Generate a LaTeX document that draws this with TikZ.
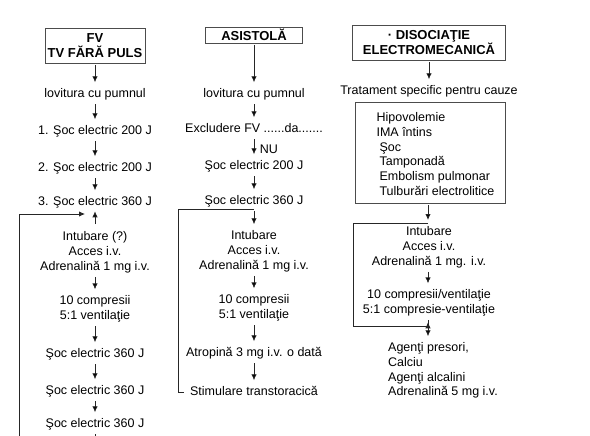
\documentclass[tikz,border=0pt]{standalone}
\usepackage{fontspec}
\setmainfont{Liberation Sans}
\usetikzlibrary{positioning,calc,arrows.meta}
\newcommand{\tf}{\fontsize{12.5}{14.8}\selectfont}
\newcommand{\hf}{\fontsize{13}{14.5}\selectfont\bfseries}

\begin{document}
\begin{tikzpicture}[x=1pt,y=1pt,
  >={Latex[length=6pt,width=5.5pt]},
  every node/.style={inner sep=2pt,font=\tf},
  stage/.style={text height=9pt,text depth=2.6pt},
  block/.style={align=center},
  head/.style={draw=black!70,line width=0.6pt,align=center,font=\hf,inner sep=0pt},
  line/.style={draw=black!85,line width=0.85pt}]
\useasboundingbox (0,0) rectangle (590,-436);
%
% FV / TV
\node[head,minimum width=100pt,minimum height=35pt] (fv) at (95,-45.5) {FV\\TV FĂRĂ PULS};
\node[stage] (f1) at (95,-94.3)  {lovitura cu pumnul};
\node[stage] (f2) at (95,-131.3) {1. Şoc electric 200 J};
\node[stage] (f3) at (95,-168.3) {2. Şoc electric 200 J};
\node[stage] (f4) at (95,-202.3) {3. Şoc electric 360 J};
\node[block] (f5) at (95,-252)   {Intubare (?)\\Acces i.v.\\Adrenalină 1 mg i.v.};
\node[block] (f6) at (95,-308.8) {10 compresii\\5:1 ventilaţie};
\node[stage] (f7) at (95,-354.3) {Şoc electric 360 J};
\node[stage] (f8) at (95,-391.3) {Şoc electric 360 J};
\node[stage] (f9) at (95,-424.3) {Şoc electric 360 J};
\coordinate (f0) at (19,-436);
\coordinate (fr) at (85,-214);
\coordinate (fe) at (95,-436);
%
% asistola
\node[head,minimum width=97pt,minimum height=16pt] (as) at (254,-35) {ASISTOLĂ};
\node[stage] (a1) at (254,-94.3)  {lovitura cu pumnul};
\node[stage] (a2) at (254,-129.3) {Excludere FV ......da.......};
\node[stage] (a3) at (254,-166.3) {Şoc electric 200 J};
\node[stage] (a4) at (254,-201.3) {Şoc electric 360 J};
\node[block] (a5) at (254,-251.1) {Intubare\\Acces i.v.\\Adrenalină 1 mg i.v.};
\node[block] (a6) at (254,-307.8) {10 compresii\\5:1 ventilaţie};
\node[stage] (a7) at (254,-353.3) {Atropină 3 mg i.v. o dată};
\node[stage] (a8) at (254,-392.3) {Stimulare transtoracică};
\coordinate (aj) at (254,-209);
\coordinate (al) at (178,-209);
%
% disociatie
\node[head,minimum width=153pt,minimum height=35pt] (em) at (429,-42.5) {· DISOCIAŢIE\\ELECTROMECANICĂ};
\node[stage] (d1) at (429,-91.3) {Tratament specific pentru cauze};
\node[draw=black!70,line width=0.6pt,inner sep=0pt,minimum width=150pt,minimum height=101pt]
  (cz) at (430,-152.5) {\begin{tabular}{@{\hspace{11pt}}l@{}}
  \rule{0pt}{16.4pt}Hipovolemie\\
  IMA întins\\
  \hspace{3pt}Şoc\\
  \hspace{3pt}Tamponadă\\
  \hspace{3pt}Embolism pulmonar\\
  \hspace{3pt}Tulburări electrolitice
  \end{tabular}};
\node[block] (d2) at (429,-247.1) {Intubare\\Acces i.v.\\Adrenalină 1 mg. i.v.};
\node[block] (d3) at (429,-302.8) {10 compresii/ventilaţie\\5:1 compresie-ventilaţie};
\node[align=left,anchor=west] (d4) at (386,-370.5) {Agenţi presori,\\Calciu\\Agenţi alcalini\\Adrenalină 5 mg i.v.};
\coordinate (dt) at (428,-223);
\coordinate (db) at (428,-326);
\coordinate (dl) at (353,-223);
%
\path[->,line,shorten <=2pt,shorten >=4pt]
  (fv) edge (f1)
  (f1) edge (f2)
  (f2) edge (f3)
  (f3) edge (f4)
  (f5) edge[shorten <=5pt,shorten >=1pt] (f4)
  (f5) edge (f6)
  (f6) edge (f7)
  (f7) edge (f8)
  (f8) edge (f9)
  (as) edge (a1)
  (a1) edge (a2)
  (a2) edge node[right=3.5pt,pos=0.55] {NU} (a3)
  (a3) edge (a4)
  (a4) edge (a5)
  (a5) edge (a6)
  (a6) edge (a7)
  (a7) edge (a8)
  (em) edge (d1)
  (cz.south -| dt) edge[shorten >=3pt] (dt)
  (d2.south -| dt) edge (d3.north -| dt)
  (d3.south -| dt) edge (d4.north -| dt)
; %-path-%
%
\draw[->,line] (f0) |- (fr);
\draw[line,shorten <=2pt] (f9) -- (fe);
\draw[line,shorten <=4pt] (a8.west) -| (al) -- (aj);
\draw[line] (db) -| (dl) -- (dt);
\end{tikzpicture}
\end{document}
